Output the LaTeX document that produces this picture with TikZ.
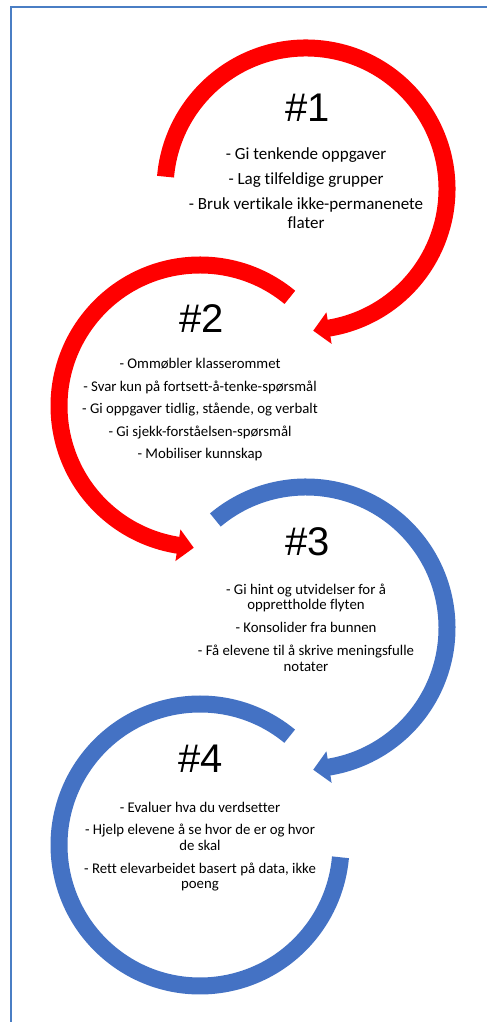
\documentclass[tikz,border=0pt]{standalone}
\usepackage{fontspec}
\setmainfont{Carlito}[Ligatures=NoCommon]
\newfontfamily\hfont{Liberation Sans}
\definecolor{framecol}{RGB}{74,126,196}
\definecolor{arcred}{RGB}{255,0,0}
\definecolor{arcblue}{RGB}{68,114,196}
\begin{document}
\begin{tikzpicture}[x=1pt,y=1pt,
  framestyle/.style={draw=framecol,line width=2pt},
  redarc/.style={draw=arcred,line width=17pt},
  bluearc/.style={draw=arcblue,line width=17pt},
  heading/.style={inner sep=0pt,font=\hfont\fontsize{40}{40}\selectfont},
  bigtxt/.style={inner sep=0pt,anchor=base,font=\fontsize{17}{19}\selectfont},
  smalltxt/.style={inner sep=0pt,anchor=base,font=\fontsize{14.8}{17}\selectfont}]
\useasboundingbox (0,0) rectangle (487,1022);
\fill[white] (0,0) rectangle (487,1022);
% frame
\coordinate (fbl) at (10.7,0);
\coordinate (ftl) at (10.7,1015.3);
\coordinate (ftr) at (487,1015.3);
\draw[framestyle] (fbl) -- (ftl) -- (ftr);
% arc 1
\begin{scope}[shift={(306,833)}]
  \draw[redarc] (175:141) arc[start angle=175,end angle=-81.5,radius=141];
  \fill[arcred] (-80.6:141) ++(-170.6:16) -- (-80.6:125) -- (-80.6:157) -- cycle;
\end{scope}
% arc 2
\begin{scope}[shift={(200,616)}]
  \draw[redarc] (50.4:141) arc[start angle=50.4,end angle=262,radius=141];
  \fill[arcred] (261:141) ++(351:16) -- (261:125) -- (261:157) -- cycle;
\end{scope}
% arc 3
\begin{scope}[shift={(306,394)}]
  \draw[bluearc] (130:141) arc[start angle=130,end angle=-81.5,radius=141];
  \fill[arcblue] (-80.6:141) ++(-170.6:16) -- (-80.6:125) -- (-80.6:157) -- cycle;
\end{scope}
% arc 4
\begin{scope}[shift={(200,177)}]
  \draw[bluearc] (50.5:141) arc[start angle=50.5,end angle=355,radius=141];
\end{scope}
% headings
\node[heading] (h1) at (307.5,914.5) {\#1};
\node[heading] (h2) at (201.5,703) {\#2};
\node[heading] (h3) at (307.5,480.5) {\#3};
\node[heading] (h4) at (201,263) {\#4};
% block 1
\node[bigtxt] (a1) at (306,862.5) {- Gi tenkende oppgaver};
\node[bigtxt] (a2) at (306,837) {- Lag tilfeldige grupper};
\node[bigtxt] (a3) at (306,812) {- Bruk vertikale ikke-permanenete};
\node[bigtxt] (a4) at (306,793) {flater};
% block 2
\node[smalltxt] (b1) at (200,653) {- Ommøbler klasserommet};
\node[smalltxt] (b2) at (200,630.5) {- Svar kun på fortsett-å-tenke-spørsmål};
\node[smalltxt] (b3) at (200,608) {- Gi oppgaver tidlig, stående, og verbalt};
\node[smalltxt] (b4) at (200,585.5) {- Gi sjekk-forståelsen-spørsmål};
\node[smalltxt] (b5) at (200,563) {- Mobiliser kunnskap};
% block 3
\node[smalltxt] (c1) at (306,427.7) {- Gi hint og utvidelser for å};
\node[smalltxt] (c2) at (306,412.4) {opprettholde flyten};
\node[smalltxt] (c3) at (306,389.3) {- Konsolider fra bunnen};
\node[smalltxt] (c4) at (306,366.3) {- Få elevene til å skrive meningsfulle};
\node[smalltxt] (c5) at (306,350.8) {notater};
% block 4
\node[smalltxt] (d1) at (200,209.7) {- Evaluer hva du verdsetter};
\node[smalltxt] (d2) at (200,187) {- Hjelp elevene å se hvor de er og hvor};
\node[smalltxt] (d3) at (200,171) {de skal};
\node[smalltxt] (d4) at (200,148) {- Rett elevarbeidet basert på data, ikke};
\node[smalltxt] (d5) at (200,133) {poeng};
\end{tikzpicture}
\end{document}
